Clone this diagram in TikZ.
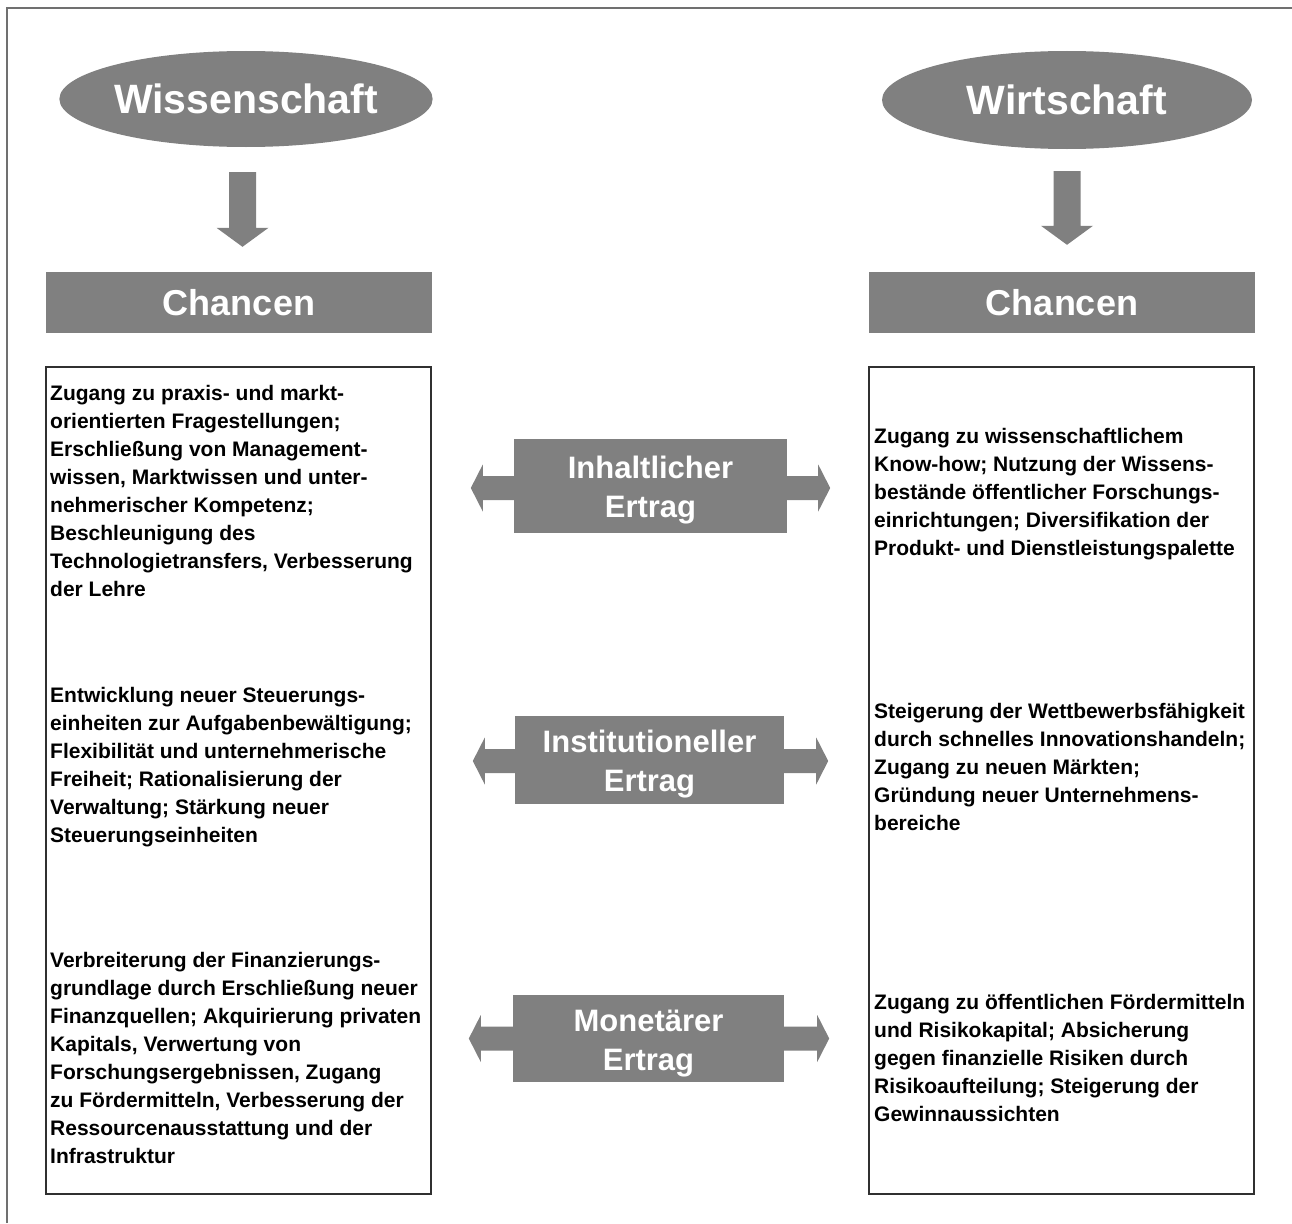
\documentclass[tikz,border=0pt]{standalone}
\usepackage{fontspec}
\setmainfont{Liberation Sans}
\usetikzlibrary{calc,backgrounds,shapes.geometric}
\definecolor{panelgray}{HTML}{808080}
\definecolor{framegray}{HTML}{707070}
\definecolor{edgegray}{HTML}{303030}

% broad downward arrow from #1 (top of shaft) to #2 (tip)
\newcommand\downflow[2]{%
  \fill[flow] let \p1=(#1), \p2=(#2) in
    (\x1-13.5pt,\y1) -- (\x1+13.5pt,\y1) -- (\x1+13.5pt,\y2+19pt)
    -- (\x1+26pt,\y2+19pt) -- (\x1,\y2) -- (\x1-26pt,\y2+19pt)
    -- (\x1-13.5pt,\y2+19pt) -- cycle;}
% broad two-headed horizontal arrow between the tips #1 and #2
\newcommand\sideflow[2]{%
  \fill[flow] let \p1=(#1), \p2=(#2) in
    (\x1,\y1) -- (\x1+12pt,\y1+23.5pt) -- (\x1+12pt,\y1+12pt)
    -- (\x2-12pt,\y1+12pt) -- (\x2-12pt,\y1+23.5pt) -- (\x2,\y1)
    -- (\x2-12pt,\y1-23.5pt) -- (\x2-12pt,\y1-12pt)
    -- (\x1+12pt,\y1-12pt) -- (\x1+12pt,\y1-23.5pt) -- cycle;}
% taller first line, so the two-line labels sit a little lower
\newcommand\yieldstrut{\rule{0pt}{31pt}}

\begin{document}
\begin{tikzpicture}[x=1pt,y=-1pt,
  title/.style={ellipse, fill=panelgray, text=white, inner sep=0pt,
    font=\fontsize{41}{49}\selectfont\bfseries},
  header/.style={rectangle, fill=panelgray, text=white, inner sep=0pt,
    minimum width=386pt, minimum height=61pt,
    font=\fontsize{36}{43}\selectfont\bfseries},
  yield/.style={rectangle, fill=panelgray, text=white, inner sep=0pt,
    align=center, font=\fontsize{31}{39}\selectfont\bfseries},
  panel/.style={rectangle, draw=edgegray, line width=1.1pt, inner sep=0pt,
    minimum width=385pt, minimum height=827pt},
  body/.style={anchor=north west, align=left, inner sep=0pt,
    font=\fontsize{21}{28}\selectfont\bfseries},
  flow/.style={fill=panelgray}]
\useasboundingbox (0,0) rectangle (1292,1223);

% outer frame
\draw[framegray, line width=1.5pt] (7,1223) -- (7,8) -- (1292,8);

% column heads
\node[title, minimum width=368pt, minimum height=96pt] (wis) at (246,99) {Wissenschaft};
\node[title, minimum width=370pt, minimum height=98pt] (wir) at (1067,100) {Wirtschaft};
\node[header] (chl) at (239,302.5) {Chancen};
\node[header] (chr) at (1062,302.5) {Chancen};

% text panels
\node[panel] (pl) at (238.5,780.5) {};
\node[panel] (pr) at (1061.5,780.5) {};

% yield boxes in the middle
\node[yield, minimum width=273pt, minimum height=94pt] (inh) at (650.5,486) {\yieldstrut Inhaltlicher\\Ertrag};
\node[yield, minimum width=269pt, minimum height=88pt] (ins) at (649.5,760) {\yieldstrut Institutioneller\\Ertrag};
\node[yield, minimum width=271pt, minimum height=87pt] (mon) at (648.5,1038.5) {\yieldstrut Monetärer\\Ertrag};

% arrow end points
\coordinate (wl-a) at ($(wis.south)+(-3.5,25)$);
\coordinate (wl-b) at ($(wl-a |- chl.north)+(0,-25)$);
\coordinate (wr-a) at ($(wir.south)+(0,22)$);
\coordinate (wr-b) at ($(wr-a |- chr.north)+(0,-27)$);
\coordinate (inh-l) at ($(inh.west)+(-43,2)$);
\coordinate (inh-r) at ($(inh.east)+(43,2)$);
\coordinate (ins-l) at ($(ins.west)+(-42,1)$);
\coordinate (ins-r) at ($(ins.east)+(44,1)$);
\coordinate (mon-l) at ($(mon.west)+(-44,0)$);
\coordinate (mon-r) at ($(mon.east)+(45,0)$);

\downflow{wl-a}{wl-b}
\downflow{wr-a}{wr-b}
\begin{scope}[on background layer]
  \sideflow{inh-l}{inh-r}
  \sideflow{ins-l}{ins-r}
  \sideflow{mon-l}{mon-r}
\end{scope}

% left column text
\node[body] (l1) at (50,384.7) {Zugang zu praxis- und markt-\\
orientierten Fragestellungen;\\
Erschließung von Management-\\
wissen, Marktwissen und unter-\\
nehmerischer Kompetenz;\\
Beschleunigung des\\
Technologietransfers, Verbesserung\\
der Lehre};
\node[body] (l2) at (50,686.7) {Entwicklung neuer Steuerungs-\\
einheiten zur Aufgabenbewältigung;\\
Flexibilität und unternehmerische\\
Freiheit; Rationalisierung der\\
Verwaltung; Stärkung neuer\\
Steuerungseinheiten};
\node[body] (l3) at (50,951.7) {Verbreiterung der Finanzierungs-\\
grundlage durch Erschließung neuer\\
Finanzquellen; Akquirierung privaten\\
Kapitals, Verwertung von\\
Forschungsergebnissen, Zugang\\
zu Fördermitteln, Verbesserung der\\
Ressourcenausstattung und der\\
Infrastruktur};

% right column text
\node[body] (r1) at (874,427.7) {Zugang zu wissenschaftlichem\\
Know-how; Nutzung der Wissens-\\
bestände öffentlicher Forschungs-\\
einrichtungen; Diversifikation der\\
Produkt- und Dienstleistungspalette};
\node[body] (r2) at (874,702.7) {Steigerung der Wettbewerbsfähigkeit\\
durch schnelles Innovationshandeln;\\
Zugang zu neuen Märkten;\\
Gründung neuer Unternehmens-\\
bereiche};
\node[body] (r3) at (874,993.7) {Zugang zu öffentlichen Fördermitteln\\
und Risikokapital; Absicherung\\
gegen finanzielle Risiken durch\\
Risikoaufteilung; Steigerung der\\
Gewinnaussichten};
\end{tikzpicture}
\end{document}
